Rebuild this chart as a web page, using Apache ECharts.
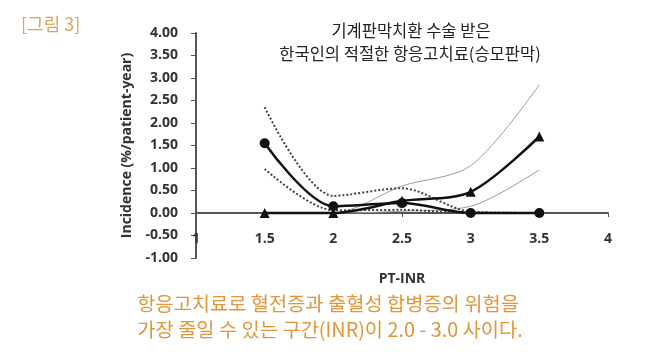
<!DOCTYPE html>
<html>
<head>
<meta charset="utf-8">
<script src="https://cdn.jsdelivr.net/npm/echarts@6/dist/echarts.min.js"></script>
<style>
  html, body { margin: 0; padding: 0; background: #fff; }
  #chart { width: 655px; height: 355px; }
</style>
</head>
<body>
<div id="chart"></div>
<script>
// PT-INR points
const inr = [1.5, 2, 2.5, 3, 3.5];

// circle series with its dotted confidence band
const circleVals = [1.55, 0.15, 0.22, 0, 0];
const circleUpper = [2.35, 0.38, 0.55, 0.03, 0];
const circleLower = [0.98, 0.06, 0.07, 0, 0];

// triangle series with its thin grey band
const triVals = [0, 0, 0.27, 0.47, 1.7];
const triUpper = [0, 0, 0.6, 1.05, 2.85];
const triLower = [0, 0, 0.04, 0.15, 0.96];

const titleLines = ['기계판막치환 수술 받은', '한국인의 적절한 항응고치료(승모판막)'];
const captionLines = ['항응고치료로 혈전증과 출혈성 합병증의 위험을', '가장 줄일 수 있는 구간(INR)이 2.0 - 3.0 사이다.'];

const pairs = vals => inr.map((x, i) => [x, vals[i]]);
const cjk = '"Noto Sans CJK KR", sans-serif';
const SMOOTH = 0.3;

const chart = echarts.init(document.getElementById('chart'));

const bandLine = (vals, style) => ({
    type: 'line',
    data: pairs(vals),
    smooth: SMOOTH,
    showSymbol: false,
    silent: true,
    lineStyle: style
});

chart.setOption({
    animation: false,
    title: [
        { text: '[그림 3]', left: 16, top: 10, textStyle: { fontFamily: cjk, fontSize: 18, fontWeight: 'normal', color: '#d8a65e' } },
        { text: titleLines[0], left: 406, top: 17, textAlign: 'center', textStyle: { fontFamily: cjk, fontSize: 16.5, fontWeight: 'normal', color: '#222' } },
        { text: titleLines[1], left: 405, top: 40, textAlign: 'center', textStyle: { fontFamily: cjk, fontSize: 16.5, fontWeight: 'normal', color: '#222' } },
        { text: captionLines[0], left: 323, top: 289, textAlign: 'center', textStyle: { fontFamily: cjk, fontSize: 19.8, fontWeight: 'normal', color: '#e0963c' } },
        { text: captionLines[1], left: 325, top: 315, textAlign: 'center', textStyle: { fontFamily: cjk, fontSize: 19.8, fontWeight: 'normal', color: '#e0963c' } }
    ],
    grid: { left: 196, right: 47, top: 33, bottom: 97 },
    xAxis: {
        type: 'value',
        min: 1,
        max: 4,
        interval: 0.5,
        name: 'PT-INR',
        nameLocation: 'middle',
        nameGap: 14,
        nameTextStyle: { fontFamily: 'Open Sans', fontWeight: 'bold', fontSize: 14, color: '#333' },
        axisLine: { onZero: true, lineStyle: { color: '#555', width: 2 } },
        axisTick: { show: true, length: 4, lineStyle: { color: '#555' } },
        axisLabel: { margin: -26, fontFamily: 'Open Sans', fontWeight: 'bold', fontSize: 14, color: '#333' },
        splitLine: { show: false }
    },
    yAxis: {
        type: 'value',
        min: -1,
        max: 4,
        interval: 0.5,
        name: 'Incidence (%/patient-year)',
        nameLocation: 'middle',
        nameGap: 62,
        nameTextStyle: { fontFamily: 'Open Sans', fontWeight: 'bold', fontSize: 14, color: '#333' },
        axisLine: { show: true, lineStyle: { color: '#555', width: 2 } },
        axisTick: { show: true, length: 5, lineStyle: { color: '#555' } },
        axisLabel: { margin: 18, fontFamily: 'Open Sans', fontWeight: 'bold', fontSize: 14, color: '#333', formatter: v => v.toFixed(2) },
        splitLine: { show: false }
    },
    series: [
        bandLine(triUpper, { color: '#9a9a9a', width: 1 }),
        bandLine(triLower, { color: '#9a9a9a', width: 1 }),
        bandLine(circleUpper, { color: '#444', width: 2, type: [2, 2] }),
        bandLine(circleLower, { color: '#444', width: 2, type: [2, 2] }),
        {
            type: 'line',
            data: pairs(triVals),
            smooth: SMOOTH,
            symbol: 'triangle',
            symbolSize: 10,
            lineStyle: { color: '#111', width: 2.5 },
            itemStyle: { color: '#111' }
        },
        {
            type: 'line',
            data: pairs(circleVals),
            smooth: SMOOTH,
            symbol: 'circle',
            symbolSize: 10,
            lineStyle: { color: '#111', width: 2.5 },
            itemStyle: { color: '#111' }
        }
    ]
});
</script>
</body>
</html>
